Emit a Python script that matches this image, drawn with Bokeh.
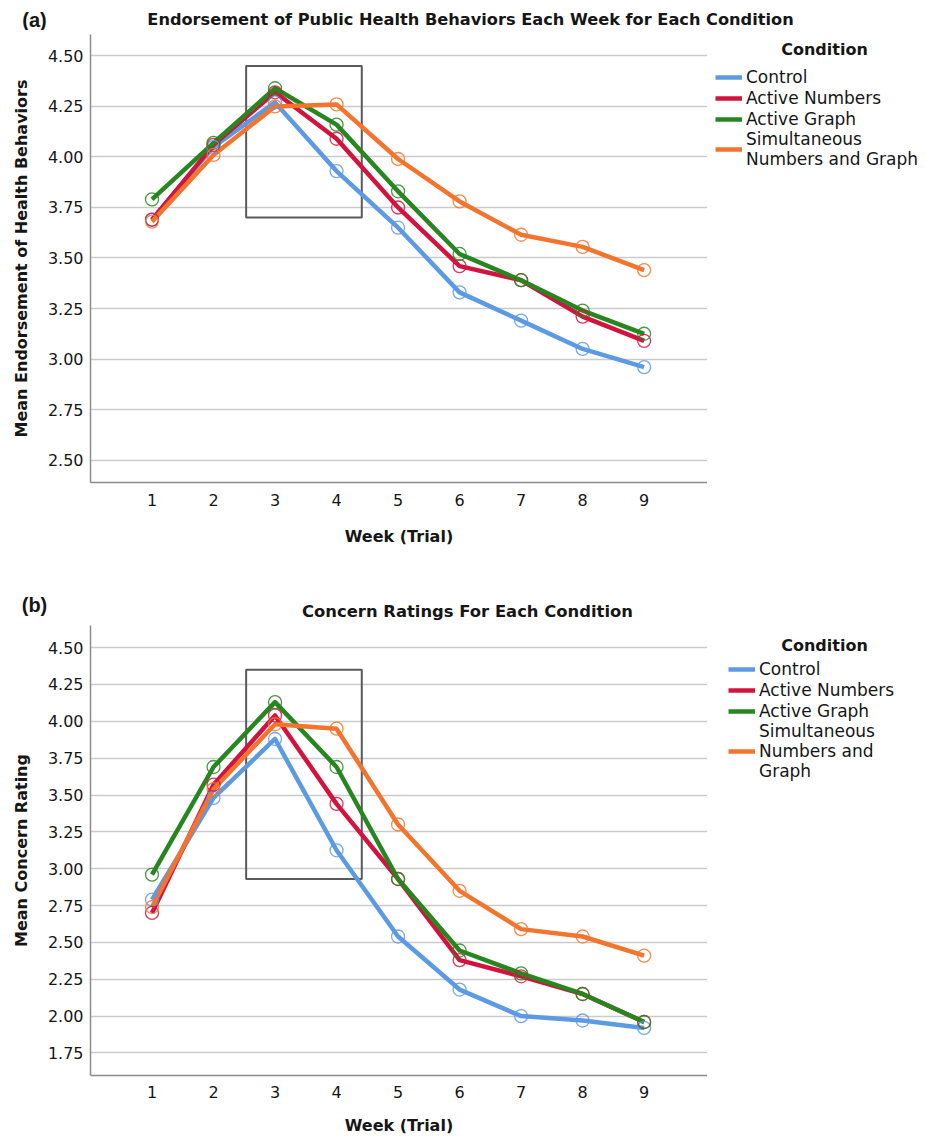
from bokeh.plotting import figure
from bokeh.models import (Legend, LegendItem, FixedTicker, Range1d,
                          NumeralTickFormatter)
from bokeh.core.properties import value
from bokeh.layouts import column, row
from bokeh.embed import file_html
from bokeh.resources import INLINE

# ---------------- data ----------------
weeks = [1, 2, 3, 4, 5, 6, 7, 8, 9]
condition_names = ["Control", "Active Numbers", "Active Graph",
                   "Simultaneous Numbers and Graph"]
legend_labels_a = ["Control", "Active Numbers", "Active Graph",
                   "Simultaneous\nNumbers and Graph"]
legend_labels_b = ["Control", "Active Numbers", "Active Graph",
                   "Simultaneous\nNumbers and\nGraph"]
colors = ["#5c9ae4", "#d3133f", "#27861f", "#f3752d"]

# Panel (a): Mean endorsement of public health behaviors
endorse_control = [3.69, 4.05, 4.27, 3.93, 3.65, 3.33, 3.19, 3.05, 2.96]
endorse_numbers = [3.69, 4.06, 4.32, 4.09, 3.75, 3.46, 3.39, 3.21, 3.09]
endorse_graph = [3.79, 4.07, 4.34, 4.16, 3.83, 3.52, 3.39, 3.24, 3.125]
endorse_simul = [3.68, 4.01, 4.25, 4.26, 3.99, 3.78, 3.615, 3.555, 3.44]

# Panel (b): Mean concern rating
concern_control = [2.79, 3.48, 3.88, 3.125, 2.54, 2.18, 2.00, 1.97, 1.92]
concern_numbers = [2.70, 3.57, 4.04, 3.44, 2.93, 2.38, 2.27, 2.15, 1.96]
concern_graph = [2.96, 3.69, 4.13, 3.69, 2.93, 2.445, 2.29, 2.15, 1.96]
concern_simul = [2.74, 3.54, 3.98, 3.95, 3.30, 2.85, 2.59, 2.54, 2.41]

y_ticks_a = [2.50, 2.75, 3.00, 3.25, 3.50, 3.75, 4.00, 4.25, 4.50]
y_ticks_b = [1.75, 2.00, 2.25, 2.50, 2.75, 3.00, 3.25, 3.50, 3.75, 4.00,
             4.25, 4.50]
y_range_a = [2.389, 4.606]
y_range_b = [1.597, 4.65]
x_range_all = [0, 10.03]

# highlight boxes (weeks 3-4)
box_a_x = [2.53, 4.41]
box_a_y = [3.70, 4.45]
box_b_x = [2.53, 4.41]
box_b_y = [2.93, 4.35]

FONT = "DejaVu Sans"
TXT = "#161616"
PAGE_W = 926
LEFT_W = 707


def blank(width, height, y_top, y_bottom, x0, x1):
    f = figure(width=width, height=height, output_backend="svg",
               toolbar_location=None, x_axis_type=None, y_axis_type=None,
               x_range=Range1d(x0, x1), y_range=Range1d(y_bottom, y_top),
               min_border=0)
    f.outline_line_color = None
    f.background_fill_color = "white"
    f.border_fill_color = "white"
    return f


def main_plot(ylabel, series, yr, yticks, box_x, box_y, frame_h, b_top,
              b_bottom, tick_standoff, xlab_standoff):
    p = figure(frame_width=617, frame_height=frame_h, output_backend="svg",
               toolbar_location=None,
               x_range=Range1d(*x_range_all), y_range=Range1d(*yr),
               min_border_left=90, min_border_right=0,
               min_border_top=b_top, min_border_bottom=b_bottom)
    p.outline_line_color = None
    p.background_fill_color = "white"
    p.border_fill_color = "white"

    p.xgrid.visible = False
    p.ygrid.grid_line_color = "#cbcbcb"
    p.ygrid.grid_line_width = 1.6

    for ax in (p.xaxis[0], p.yaxis[0]):
        ax.axis_line_color = "#8c8c8c"
        ax.axis_line_width = 1.5
        ax.major_tick_line_color = None
        ax.minor_tick_line_color = None
        ax.major_tick_out = 0
        ax.major_tick_in = 0
        ax.minor_tick_out = 0
        ax.major_label_text_font = FONT
        ax.major_label_text_font_size = "16px"
        ax.major_label_text_color = TXT
        ax.axis_label_text_font = FONT
        ax.axis_label_text_font_style = "bold"
        ax.axis_label_text_font_size = "16px"
        ax.axis_label_text_color = TXT

    p.xaxis.ticker = FixedTicker(ticks=weeks)
    p.xaxis.axis_label = "Week (Trial)"
    p.xaxis.major_label_standoff = tick_standoff
    p.xaxis.axis_label_standoff = xlab_standoff

    p.yaxis.ticker = FixedTicker(ticks=yticks)
    p.yaxis.formatter = NumeralTickFormatter(format="0.00")
    p.yaxis.axis_label = ylabel
    p.yaxis.major_label_standoff = 7
    p.yaxis.axis_label_standoff = 14

    # highlight box
    p.quad(left=[box_x[0]], right=[box_x[1]], bottom=[box_y[0]],
           top=[box_y[1]], fill_color=None, line_color="#5a5a5a",
           line_width=2)

    for vals, c in zip(series, colors):
        p.line(weeks, vals, line_width=4.5, line_color=c, line_join="round")
    for vals, c in zip(series, colors):
        p.scatter(weeks, vals, marker="circle", size=13, fill_color=None,
                  line_color=c, line_width=1.3, line_alpha=0.85)
    return p


def side_panel(height, y_top, series, labels, leg_margin, title_size,
               leg_standoff, cond_y):
    s = blank(PAGE_W - LEFT_W, height, y_top, y_top + height, LEFT_W, PAGE_W)
    # same series again: they fall outside this panel's ranges, so only
    # their legend swatches show
    rends = [s.line(weeks, vals, line_width=4.5, line_color=c)
             for vals, c in zip(series, colors)]
    legend = Legend(items=[LegendItem(label=lab, renderers=[r])
                           for lab, r in zip(labels, rends)],
                    location="top_left")
    legend.title = "Condition"
    legend.title_text_alpha = 0
    legend.title_text_font = FONT
    legend.title_text_font_size = title_size
    legend.title_standoff = leg_standoff
    legend.margin = leg_margin
    legend.padding = 8
    legend.border_line_color = None
    legend.background_fill_alpha = 0
    legend.glyph_width = 27
    legend.glyph_height = 16
    legend.label_standoff = 4
    legend.label_height = 21
    legend.spacing = 0
    legend.label_text_font = FONT
    legend.label_text_font_size = "17px"
    legend.label_text_line_height = 1.06
    legend.label_text_color = TXT
    s.add_layout(legend)
    s.text(x=[824], y=[cond_y], text=["Condition"], text_font=value(FONT),
           text_font_style="bold", text_font_size=value("16px"),
           text_color=TXT, text_align="center", text_baseline="middle")
    return s


def header(height, y_top, tag, tag_y, title, title_x, title_y, title_size):
    h = blank(PAGE_W, height, y_top, y_top + height, 0, PAGE_W)
    h.text(x=[34], y=[tag_y], text=[tag], text_font=value("Liberation Sans"),
           text_font_style="bold", text_font_size=value("20px"),
           text_color=TXT, text_align="center", text_baseline="middle")
    h.text(x=[title_x], y=[title_y], text=[title], text_font=value(FONT),
           text_font_style="bold", text_font_size=value(title_size),
           text_color=TXT, text_align="center", text_baseline="middle")
    return h


series_a = [endorse_control, endorse_numbers, endorse_graph, endorse_simul]
series_b = [concern_control, concern_numbers, concern_graph, concern_simul]

# ---------------- panel (a) ----------------
head_a = header(30, 0, "(a)", 19,
                "Endorsement of Public Health Behaviors Each Week for Each Condition",
                470, 19, "16.2px")
main_a = main_plot("Mean Endorsement of Health Behaviors", series_a,
                   y_range_a, y_ticks_a, box_a_x, box_a_y,
                   frame_h=448, b_top=4, b_bottom=93,
                   tick_standoff=11, xlab_standoff=18)
side_a = side_panel(545, 30, series_a, legend_labels_a, 8, "16px", 5, 48)

# ---------------- panel (b) ----------------
head_b = header(45, 575, "(b)", 604, "Concern Ratings For Each Condition",
                467, 611, "16.4px")
main_b = main_plot("Mean Concern Rating", series_b,
                   y_range_b, y_ticks_b, box_b_x, box_b_y,
                   frame_h=450, b_top=5, b_bottom=59,
                   tick_standoff=10, xlab_standoff=15)
side_b = side_panel(514, 620, series_b, legend_labels_b, 21, "10px", 1, 643)

layout = column(head_a, row(main_a, side_a, spacing=0),
                head_b, row(main_b, side_b, spacing=0), spacing=0)
open("out.html", "w").write(file_html(layout, INLINE))
